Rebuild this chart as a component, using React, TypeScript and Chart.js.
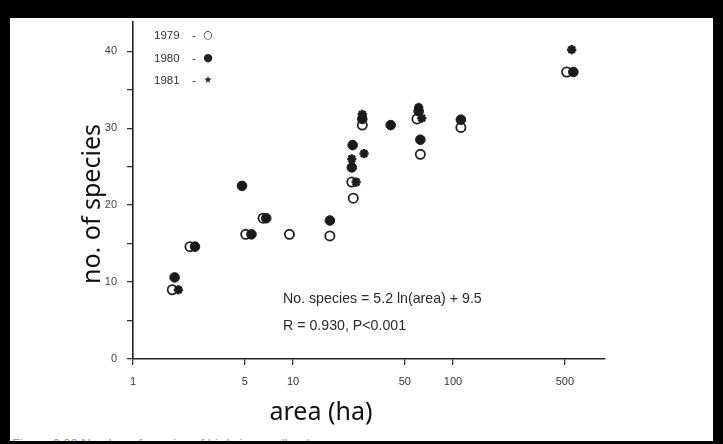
import React, { useEffect, useRef } from "react";
import { Chart, registerables } from "chart.js";

Chart.register(...registerables);

// Data (area in ha, number of species)
const area1979 = [1.76, 2.27, 5.06, 6.5, 9.5, 17, 23.3, 23.8, 27.1, 59.5, 62.5, 112, 513];
const species1979 = [9.0, 14.6, 16.2, 18.3, 16.2, 16.0, 23.0, 20.9, 30.4, 31.2, 26.6, 30.1, 37.3];

const area1980 = [1.82, 2.44, 4.8, 5.5, 6.8, 17, 23.6, 23.3, 27.1, 40.8, 61, 62.5, 112, 565];
const species1980 = [10.6, 14.6, 22.5, 16.2, 18.3, 18.0, 27.8, 24.9, 31.2, 30.4, 32.2, 28.5, 31.1, 37.3];

const area1981 = [1.92, 24.8, 23.3, 27.8, 27.1, 63.8, 61, 552];
const species1981 = [9.0, 23.0, 26.0, 26.7, 31.8, 31.3, 32.7, 40.2];

const xTickValues = [1, 5, 10, 50, 100, 500];
const yTickValues = [0, 5, 10, 15, 20, 25, 30, 35, 40];
const yLabelValues = [0, 10, 20, 30, 40];

const legendItems = [
  { year: "1979", symbol: "○" },
  { year: "1980", symbol: "●" },
  { year: "1981", symbol: "★" },
];

const xTitle = "area (ha)";
const yTitle = "no. of species";
const equationText = "No. species = 5.2 ln(area) + 9.5";
const statsText = "R = 0.930, P<0.001";
const captionText = "Figure 6.22 Number of species of birds in woodland";

const toPoints = (xs: number[], ys: number[]) => xs.map((x, i) => ({ x, y: ys[i] }));

export default function App() {
  const canvasRef = useRef<HTMLCanvasElement>(null);

  useEffect(() => {
    const canvas = canvasRef.current;
    if (!canvas) return;
    const ink = "#1b1b1b";
    const chart = new Chart(canvas, {
      type: "scatter",
      data: {
        datasets: [
          {
            label: "1979",
            data: toPoints(area1979, species1979),
            pointStyle: "circle",
            pointRadius: 4.6,
            pointBorderWidth: 1.8,
            pointBorderColor: "#222",
            pointBackgroundColor: "#ffffff",
            order: 3,
          },
          {
            label: "1980",
            data: toPoints(area1980, species1980),
            pointStyle: "circle",
            pointRadius: 4.8,
            pointBorderWidth: 1,
            pointBorderColor: ink,
            pointBackgroundColor: ink,
            order: 2,
          },
          {
            label: "1981",
            data: toPoints(area1981, species1981),
            pointStyle: "star",
            pointRadius: 4.6,
            pointBorderWidth: 2.6,
            pointBorderColor: ink,
            pointBackgroundColor: ink,
            order: 1,
          },
        ] as any,
      },
      options: {
        responsive: false,
        animation: false,
        layout: { padding: { left: 90, right: 118, top: 22, bottom: 40 } },
        plugins: { legend: { display: false }, tooltip: { enabled: false } },
        scales: {
          x: {
            type: "logarithmic",
            min: 1,
            max: 891,
            afterBuildTicks: (s: any) => {
              s.ticks = xTickValues.map((v) => ({ value: v }));
            },
            afterFit: (s: any) => {
              s.height = 45;
            },
            ticks: {
              autoSkip: false,
              maxRotation: 0,
              minRotation: 0,
              padding: 10,
              color: "#333",
              font: { family: "Liberation Sans", size: 11 },
              callback: (v: any) => String(v),
            },
            grid: { drawOnChartArea: false, drawTicks: true, tickLength: 6, color: "#333", lineWidth: 1.3 },
            border: { display: true, color: "#222", width: 1.6 },
          },
          y: {
            type: "linear",
            min: 0,
            max: 43.8,
            afterBuildTicks: (s: any) => {
              s.ticks = yTickValues.map((v) => ({ value: v }));
            },
            afterFit: (s: any) => {
              s.width = 43;
            },
            ticks: {
              padding: 10,
              color: "#444",
              font: { family: "Liberation Sans", size: 11 },
              callback: (v: any) => (yLabelValues.includes(Number(v)) ? String(v) : ""),
            },
            grid: { drawOnChartArea: false, drawTicks: true, tickLength: 6, color: "#333", lineWidth: 1.3 },
            border: { display: true, color: "#222", width: 1.6 },
          },
        },
      } as any,
    });
    return () => chart.destroy();
  }, []);

  const serif = "'Liberation Sans', Arial, sans-serif";

  return (
    <div style={{ position: "absolute", left: 0, top: 0, width: 723, height: 444, background: "#000", overflow: "hidden" }}>
      <div style={{ position: "absolute", left: 10, top: 18, width: 703, height: 423, background: "#fff", overflow: "hidden" }}>
        <div style={{ position: "absolute", left: 2, top: 418, fontFamily: serif, fontSize: 13, color: "#9a9a9a", whiteSpace: "nowrap" }}>
          {captionText}
        </div>
      </div>
      <canvas ref={canvasRef} width={723} height={444} style={{ position: "absolute", left: 0, top: 0 }} />

      {legendItems.map((it, i) => {
        const cy = [35, 58, 80][i];
        return (
          <React.Fragment key={it.year}>
            <div style={{ position: "absolute", left: 154, top: cy - 7, lineHeight: "14px", fontFamily: serif, fontSize: 11.5, color: "#333" }}>
              {it.year}
            </div>
            <div style={{ position: "absolute", left: 192, top: cy - 7, lineHeight: "14px", fontFamily: serif, fontSize: 11.5, color: "#333" }}>
              -
            </div>
            <div style={{ position: "absolute", left: 201, width: 14, textAlign: "center", top: cy - 7, lineHeight: "14px", fontFamily: "'DejaVu Sans', sans-serif", fontSize: i === 2 ? 10 : 11, color: "#222" }}>
              {it.symbol}
            </div>
          </React.Fragment>
        );
      })}

      <div style={{ position: "absolute", left: 283, top: 290, lineHeight: "16px", fontFamily: serif, fontSize: 14.2, color: "#2a2a2a", whiteSpace: "nowrap" }}>
        {equationText}
      </div>
      <div style={{ position: "absolute", left: 283, top: 317, lineHeight: "16px", fontFamily: serif, fontSize: 14.2, color: "#2a2a2a", whiteSpace: "nowrap" }}>
        {statsText}
      </div>

      <div
        style={{
          position: "absolute",
          left: -10,
          top: 189,
          width: 200,
          height: 30,
          lineHeight: "30px",
          textAlign: "center",
          transform: "rotate(-90deg)",
          fontFamily: "'Noto Sans', sans-serif",
          fontSize: 25,
          color: "#111",
          whiteSpace: "nowrap",
        }}
      >
        {yTitle}
      </div>
      <div
        style={{
          position: "absolute",
          left: 221,
          top: 395,
          width: 200,
          height: 30,
          lineHeight: "30px",
          textAlign: "center",
          fontFamily: "'Noto Sans', sans-serif",
          fontSize: 25,
          color: "#111",
          whiteSpace: "nowrap",
        }}
      >
        {xTitle}
      </div>
    </div>
  );
}
